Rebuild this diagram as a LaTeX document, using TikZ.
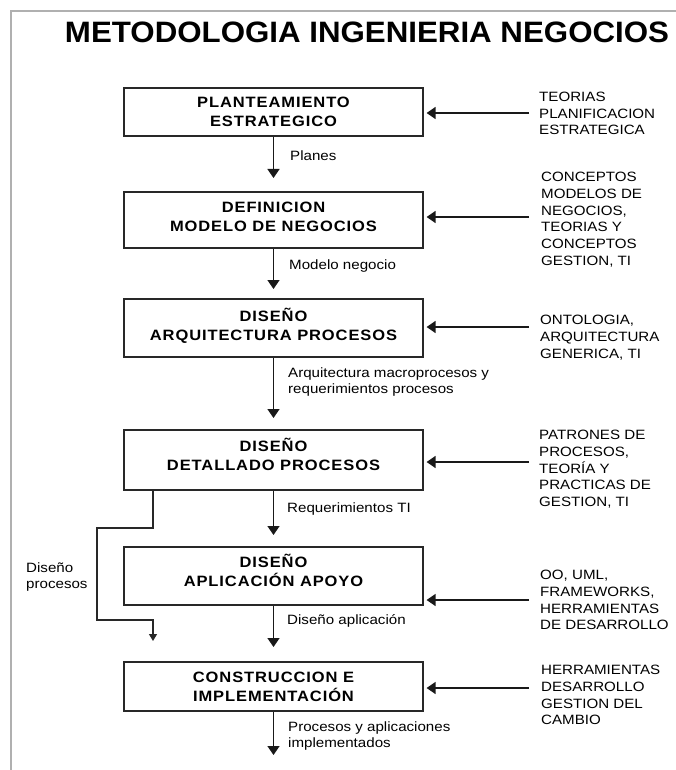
\documentclass[tikz,border=0pt]{standalone}
\usepackage{fontspec}
\setmainfont{Liberation Sans}
\newfontfamily\titlefont[FakeStretch=1.06]{Liberation Sans}
\newfontfamily\stagefont[FakeStretch=1.1,LetterSpace=6]{Liberation Sans}
\newfontfamily\notefont[FakeStretch=1.12]{Liberation Sans}
\usetikzlibrary{arrows.meta}

\definecolor{framegray}{RGB}{176,176,176}
\definecolor{inkgray}{RGB}{40,40,40}

\tikzset{
  stagebox/.style={draw=inkgray, line width=1.2pt, minimum width=299pt, inner sep=0pt},
  stagetext/.style={inner sep=0pt, anchor=base, align=center,
    font=\stagefont\bfseries\fontsize{15}{19}\selectfont},
  flow/.style={draw=black!90, line width=1.5pt, -{Triangle[width=12pt,length=9pt]}},
  feedback/.style={draw=inkgray, line width=1.1pt, -{Triangle[width=8pt,length=7pt]}},
  source/.style={inner sep=0pt, anchor=base west, align=left,
    font=\notefont\fontsize{13.5}{16.7}\selectfont},
  flowlabel/.style={inner sep=0pt, anchor=base west, align=left,
    font=\notefont\fontsize{13.5}{16}\selectfont},
}

\begin{document}
\begin{tikzpicture}[x=1pt,y=-1pt]
  \useasboundingbox (0,0) rectangle (676,770);

  % page frame
  \draw[framegray, line width=2pt] (10.5,771) -- (10.5,11) -- (677,11);

  % title
  \node[inner sep=0pt, anchor=base, font=\titlefont\bfseries\fontsize{29.5}{34}\selectfont]
    (title) at (367,42.7) {METODOLOGIA INGENIERIA NEGOCIOS};

  % stages
  \node[stagebox, minimum height=48pt] (b1) at (273.5,112) {};
  \node[stagebox, minimum height=56pt] (b2) at (273.5,220) {};
  \node[stagebox, minimum height=58pt] (b3) at (273.5,328) {};
  \node[stagebox, minimum height=60pt] (b4) at (273.5,460) {};
  \node[stagebox, minimum height=58pt] (b5) at (273.5,576) {};
  \node[stagebox, minimum height=49pt] (b6) at (273.5,686.5) {};

  % stage titles (placed by the baseline of their last line)
  \node[stagetext] (t1) at (273.5,126.4) {PLANTEAMIENTO\\ESTRATEGICO};
  \node[stagetext] (t2) at (273.5,231.4) {DEFINICION\\MODELO DE NEGOCIOS};
  \node[stagetext] (t3) at (273.5,340.7) {DISEÑO\\ARQUITECTURA PROCESOS};
  \node[stagetext] (t4) at (273.5,470.4) {DISEÑO\\DETALLADO PROCESOS};
  \node[stagetext] (t5) at (273.5,586.7) {DISEÑO\\APLICACIÓN APOYO};
  \node[stagetext] (t6) at (273.5,701.4) {CONSTRUCCION E\\IMPLEMENTACIÓN};

  % arrow ends between stages
  \coordinate (e1) at (273.5,178);
  \coordinate (e2) at (273.5,289);
  \coordinate (e3) at (273.5,418);
  \coordinate (e4) at (273.5,535);
  \coordinate (e5) at (273.5,647);
  \coordinate (e6) at (273.5,755);

  \draw[flow] (b1.south) -- (e1);
  \draw[flow] (b2.south) -- (e2);
  \draw[flow] (b3.south) -- (e3);
  \draw[flow] (b4.south) -- (e4);
  \draw[flow] (b5.south) -- (e5);
  \draw[flow] (b6.south) -- (e6);

  % flow labels
  \node[flowlabel] (l1) at (290,160.4) {Planes};
  \node[flowlabel] (l2) at (289,269.7) {Modelo negocio};
  \node[flowlabel] (l3) at (288,393.7) {Arquitectura macroprocesos y\\requerimientos procesos};
  \node[flowlabel] (l4) at (287,512.7) {Requerimientos TI};
  \node[flowlabel] (l5) at (287,624.7) {Diseño aplicación};
  \node[flowlabel] (l6) at (288,747.7) {Procesos y aplicaciones\\implementados};

  % process design branch
  \coordinate (f1) at (153,528);
  \coordinate (f2) at (97,528);
  \coordinate (f3) at (97,620);
  \coordinate (f4) at (153,620);
  \coordinate (f5) at (153,641);
  \draw[feedback] (b4.south -| f1) -- (f1) -- (f2) -- (f3) -- (f4) -- (f5);
  \node[flowlabel] (lf) at (26,588.7) {Diseño\\procesos};

  % external inputs
  \node[source] (r1) at (539,134.8) {TEORIAS\\PLANIFICACION\\ESTRATEGICA};
  \node[source] (r2) at (541,265.2) {CONCEPTOS\\MODELOS DE\\NEGOCIOS,\\TEORIAS Y\\CONCEPTOS\\GESTION, TI};
  \node[source] (r3) at (540,358.1) {ONTOLOGIA,\\ARQUITECTURA\\GENERICA, TI};
  \node[source] (r4) at (539,506.5) {PATRONES DE\\PROCESOS,\\TEORÍA Y\\PRACTICAS DE\\GESTION, TI};
  \node[source] (r5) at (540,629.8) {OO, UML,\\FRAMEWORKS,\\HERRAMIENTAS\\DE DESARROLLO};
  \node[source] (r6) at (541,724.8) {HERRAMIENTAS\\DESARROLLO\\GESTION DEL\\CAMBIO};

  \coordinate (s1) at (529,113);
  \coordinate (s2) at (529,217);
  \coordinate (s3) at (529,327);
  \coordinate (s4) at (529,462);
  \coordinate (s5) at (529,600);
  \coordinate (s6) at (529,688);

  \draw[flow, shorten >=3pt] (s1) -- (s1 -| b1.east);
  \draw[flow, shorten >=3pt] (s2) -- (s2 -| b2.east);
  \draw[flow, shorten >=3pt] (s3) -- (s3 -| b3.east);
  \draw[flow, shorten >=3pt] (s4) -- (s4 -| b4.east);
  \draw[flow, shorten >=3pt] (s5) -- (s5 -| b5.east);
  \draw[flow, shorten >=3pt] (s6) -- (s6 -| b6.east);
\end{tikzpicture}
\end{document}
